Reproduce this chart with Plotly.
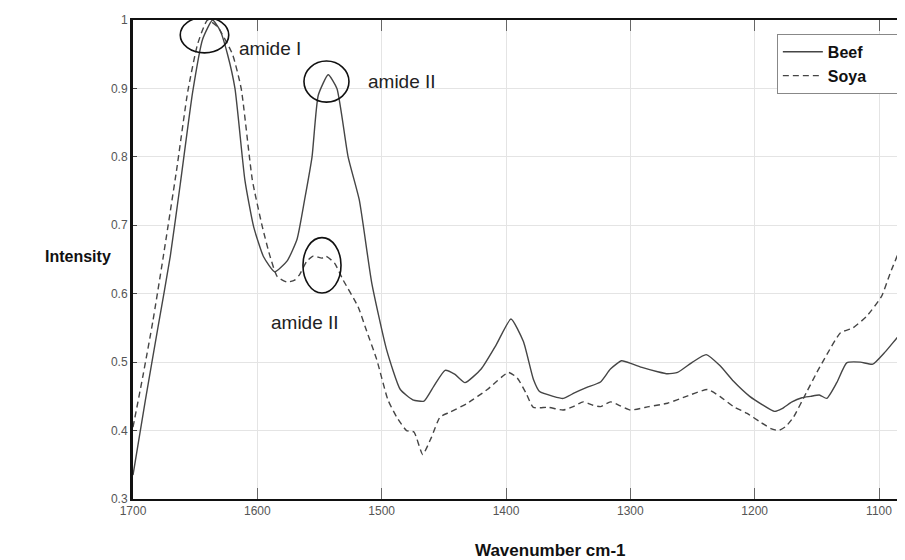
import plotly.graph_objects as go

# Wavenumber (cm-1) and intensity
beef_x = [1700, 1690, 1680, 1670, 1662, 1652, 1644, 1636, 1630, 1624, 1618, 1610, 1603,
          1595, 1586, 1576, 1568, 1562, 1556, 1551, 1543, 1536, 1527, 1518, 1508, 1496, 1485,
          1475, 1466, 1458, 1449, 1441, 1433, 1420, 1408, 1396, 1386, 1378, 1373, 1362, 1354,
          1345, 1335, 1324, 1316, 1307, 1298, 1290, 1278, 1270, 1262, 1250, 1239, 1228, 1217,
          1204, 1194, 1184, 1178, 1170, 1162, 1155, 1148, 1142, 1134, 1126, 1115, 1105, 1095,
          1081, 1079]
beef_y = [0.335, 0.445, 0.55, 0.655, 0.76, 0.895, 0.972, 1.0, 0.985, 0.95, 0.9, 0.766, 0.698,
          0.654, 0.632, 0.648, 0.68, 0.737, 0.80, 0.89, 0.92, 0.9, 0.8, 0.737, 0.616, 0.518, 0.46,
          0.445, 0.443, 0.465, 0.488, 0.482, 0.47, 0.49, 0.525, 0.563, 0.53, 0.475, 0.457, 0.45, 0.447,
          0.455, 0.463, 0.471, 0.49, 0.502, 0.497, 0.492, 0.486, 0.483, 0.485, 0.5, 0.511, 0.495, 0.472,
          0.45, 0.438, 0.428, 0.432, 0.442, 0.448, 0.45, 0.452, 0.447, 0.47, 0.499, 0.5, 0.497, 0.515,
          0.545, 0.547]

soya_x = [1700, 1692, 1684, 1676, 1665, 1656, 1648, 1640, 1632, 1620, 1613, 1604, 1596,
          1590, 1584, 1576, 1570, 1566, 1560, 1555, 1548, 1545, 1538, 1531, 1519, 1512, 1504,
          1495, 1488, 1480, 1474, 1467, 1460, 1453, 1445, 1431, 1415, 1398, 1391, 1384, 1378,
          1366, 1354, 1346, 1338, 1330, 1324, 1316, 1308, 1300, 1285, 1270, 1255, 1238, 1228,
          1217, 1206, 1196, 1187, 1181, 1175, 1169, 1158, 1150, 1142, 1131, 1121, 1110, 1098,
          1091, 1081, 1079]
soya_y = [0.405, 0.48, 0.56, 0.65, 0.78, 0.895, 0.965, 1.0, 0.99, 0.95, 0.9, 0.766, 0.698,
          0.656, 0.625, 0.617, 0.62, 0.628, 0.648, 0.655, 0.652, 0.655, 0.645, 0.62, 0.581, 0.545, 0.504,
          0.445, 0.42, 0.40, 0.398, 0.365, 0.39, 0.42, 0.427, 0.44, 0.46, 0.485, 0.477, 0.455, 0.434,
          0.434, 0.43, 0.435, 0.442, 0.437, 0.435, 0.442, 0.436, 0.43, 0.435, 0.44, 0.45, 0.46, 0.45,
          0.435, 0.425, 0.413, 0.403, 0.40, 0.406, 0.419, 0.457, 0.485, 0.511, 0.543, 0.55, 0.567, 0.596,
          0.63, 0.674, 0.68]

x_ticks = [1700, 1600, 1500, 1400, 1300, 1200, 1100]
y_ticks = [0.3, 0.4, 0.5, 0.6, 0.7, 0.8, 0.9, 1.0]
y_tick_labels = ["0.3", "0.4", "0.5", "0.6", "0.7", "0.8", "0.9", "1"]

# Peak labels and the ellipses drawn around them (data coordinates)
labels = ["amide I", "amide II", "amide II"]
label_x = [1616, 1513, 1591]
label_y = [0.959, 0.9095, 0.558]
ellipse_x0 = [1662, 1562.5, 1563.3]
ellipse_x1 = [1623, 1526.3, 1532.7]
ellipse_y0 = [0.952, 0.880, 0.601]
ellipse_y1 = [1.004, 0.940, 0.682]

fig = go.Figure()
fig.add_trace(go.Scatter(x=beef_x, y=beef_y, name="<b>Beef</b>      ", mode="lines",
                         line=dict(color="#454545", width=1.4, shape="spline", smoothing=0.5)))
fig.add_trace(go.Scatter(x=soya_x, y=soya_y, name="<b>Soya</b>      ", mode="lines",
                         line=dict(color="#454545", width=1.4, dash="6px,4px", shape="spline", smoothing=0.5)))

for x0, x1, y0, y1 in zip(ellipse_x0, ellipse_x1, ellipse_y0, ellipse_y1):
    fig.add_shape(type="circle", xref="x", yref="y", x0=x0, x1=x1, y0=y0, y1=y1,
                  line=dict(color="#111111", width=1.6))

for t, lx, ly in zip(labels, label_x, label_y):
    fig.add_annotation(x=lx, y=ly, xref="x", yref="y", text=t, showarrow=False,
                       xanchor="left", yanchor="middle",
                       font=dict(family="Liberation Sans, Arial", size=19, color="#222222"))

fig.add_annotation(x=-0.026, y=0.507, xref="paper", yref="paper", text="<b>Intensity</b>",
                   showarrow=False, xanchor="right", yanchor="middle",
                   font=dict(family="Liberation Sans, Arial", size=16, color="#111111"))
fig.add_annotation(x=0.541, y=-0.108, xref="paper", yref="paper", text="<b>Wavenumber cm-1</b>",
                   showarrow=False, xanchor="center", yanchor="middle",
                   font=dict(family="Liberation Sans, Arial", size=17, color="#111111"))

# Page body has an 8px margin, so the figure is 897x552 and offset accordingly
fig.update_layout(
    width=897, height=552,
    margin=dict(l=125, r=0, t=12, b=61),
    paper_bgcolor="white", plot_bgcolor="white",
    showlegend=True,
    legend=dict(x=0.834, y=0.971, xanchor="left", yanchor="top",
                bgcolor="white", bordercolor="#888888", borderwidth=1,
                font=dict(family="Liberation Sans, Arial", size=16, color="#111111"),
                itemwidth=40, tracegroupgap=0),
    xaxis=dict(range=[1700, 1079.1], tickvals=x_ticks, ticks="inside", ticklen=11,
               tickcolor="#666666", showline=True, linecolor="#111111", linewidth=2,
               mirror="ticks", showgrid=True, gridcolor="#e4e4e4", gridwidth=1,
               zeroline=False,
               tickfont=dict(family="Liberation Sans Narrow, Liberation Sans, Arial", size=12, color="#555555")),
    yaxis=dict(range=[0.3, 1.0], tickvals=y_ticks, ticktext=y_tick_labels, ticks="inside",
               ticklen=4, tickcolor="#444444", showline=True, linecolor="#111111", linewidth=3,
               showgrid=True, gridcolor="#e4e4e4", gridwidth=1, zeroline=False,
               tickfont=dict(family="Liberation Sans Narrow, Liberation Sans, Arial", size=12, color="#555555")),
)

fig.write_html("out.html")
